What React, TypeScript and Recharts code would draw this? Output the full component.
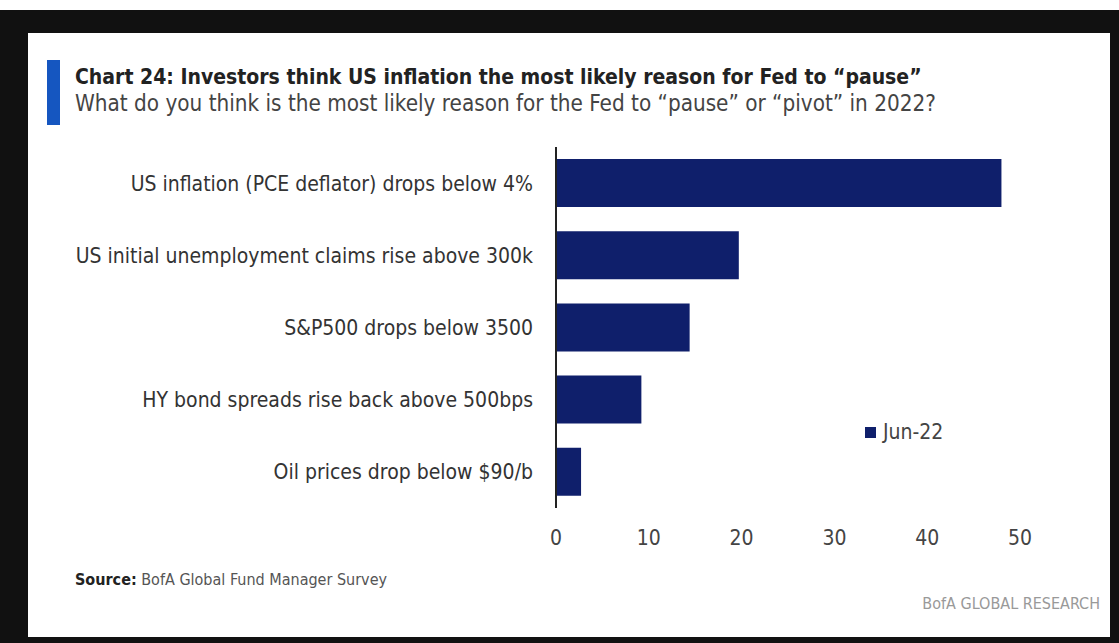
import React from 'react';
import { BarChart, Bar, XAxis, YAxis } from 'recharts';

const reasons = [
  'US inflation (PCE deflator) drops below 4%',
  'US initial unemployment claims rise above 300k',
  'S&P500 drops below 3500',
  'HY bond spreads rise back above 500bps',
  'Oil prices drop below $90/b',
];
const jun22 = [48, 19.7, 14.4, 9.2, 2.7];
const xTicks = [0, 10, 20, 30, 40, 50];

const data = reasons.map((reason, i) => ({ reason, value: jun22[i] }));

const NAVY = '#0f1f6b';
const FONT = '"DejaVu Sans Condensed", "DejaVu Sans", Arial, sans-serif';

const App: React.FC = () => {
  return (
    <div style={{ position: 'relative', width: 1119, height: 643, background: '#fff', fontFamily: FONT, fontStretch: 'condensed' }}>
      <style>{`body{margin:0}`}</style>
      {/* black frame of the screenshot */}
      <div style={{ position: 'absolute', left: 0, top: 10, width: 1119, height: 633, background: '#111' }} />
      <div style={{ position: 'absolute', left: 28, top: 33, width: 1082, height: 604, background: '#fff' }} />

      <div style={{ position: 'absolute', left: 47, top: 60, width: 13, height: 65, background: '#1556c0' }} />
      <div style={{ position: 'absolute', left: 75, top: 65, fontSize: 21, fontWeight: 700, color: '#222', whiteSpace: 'nowrap' }}>
        Chart 24: Investors think US inflation the most likely reason for Fed to “pause”
      </div>
      <div style={{ position: 'absolute', left: 75, top: 90, fontSize: 22.3, color: '#444', whiteSpace: 'nowrap' }}>
        What do you think is the most likely reason for the Fed to “pause” or “pivot” in 2022?
      </div>

      <div style={{ position: 'absolute', left: 0, top: 0 }}>
        <BarChart
          width={1119}
          height={643}
          data={data}
          layout="vertical"
          margin={{ top: 147, right: 99, bottom: 105, left: 28 }}
          barSize={48}
        >
          <XAxis
            type="number"
            domain={[0, 50]}
            ticks={xTicks}
            axisLine={false}
            tickLine={false}
            tickSize={0}
            tickMargin={22}
            tick={{ fill: '#444', fontSize: 21, fontFamily: FONT }}
          />
          <YAxis
            type="category"
            dataKey="reason"
            width={528}
            axisLine={{ stroke: '#222', strokeWidth: 2 }}
            tickLine={false}
            tickSize={0}
            tickMargin={23}
            tick={{ fill: '#333', fontSize: 21, fontFamily: FONT }}
          />
          <Bar dataKey="value" name="Jun-22" fill={NAVY} isAnimationActive={false} />
        </BarChart>
      </div>

      {/* legend */}
      <div style={{ position: 'absolute', left: 865, top: 420, display: 'flex', alignItems: 'center', whiteSpace: 'nowrap' }}>
        <span style={{ display: 'inline-block', width: 11, height: 11, background: NAVY, marginRight: 7 }} />
        <span style={{ color: '#444', fontSize: 21 }}>Jun-22</span>
      </div>

      <div style={{ position: 'absolute', left: 75, top: 570, fontSize: 16, color: '#555', whiteSpace: 'nowrap' }}>
        <b style={{ color: '#222' }}>Source:</b> BofA Global Fund Manager Survey
      </div>
      <div style={{ position: 'absolute', right: 19, top: 594, fontSize: 16, color: '#999', whiteSpace: 'nowrap' }}>
        BofA GLOBAL RESEARCH
      </div>
    </div>
  );
};

export default App;
